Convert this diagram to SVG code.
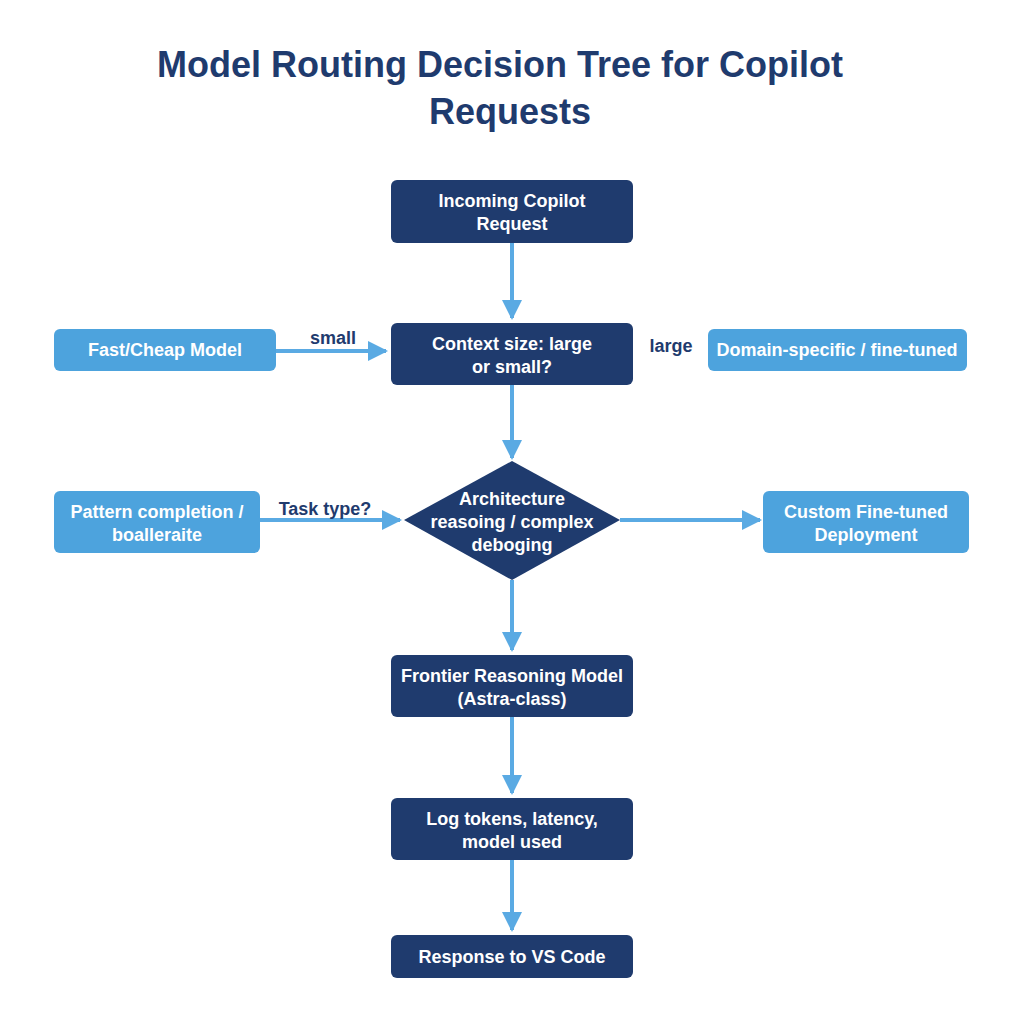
<svg xmlns="http://www.w3.org/2000/svg" width="1024" height="1024" viewBox="0 0 1024 1024">
<style>
.dk{fill:#1f3b6e}.lt{fill:#4da3dd}
text{font-family:"Liberation Sans",Arial,sans-serif;font-weight:bold}
.w{fill:#fff;font-size:18px;text-anchor:middle}
.lb{fill:#1f3b6e;font-size:18px;text-anchor:middle}
.c{stroke:#5aaae3;stroke-width:4;fill:none;marker-end:url(#a)}
</style>
<defs><marker id="a" viewBox="0 0 10 10" refX="9" refY="5" markerWidth="5" markerHeight="5" orient="auto" markerUnits="strokeWidth"><path d="M0 0L10 5L0 10z" fill="#5aaae3"/></marker></defs>
<rect width="1024" height="1024" fill="#fff"/>
<text x="500" y="77" font-size="36" fill="#1f3b6e" text-anchor="middle">Model Routing Decision Tree for Copilot</text>
<text x="510" y="124" font-size="36" fill="#1f3b6e" text-anchor="middle">Requests</text>
<g id="connectors">
<path class="c" d="M512 243V318"/>
<path class="c" d="M276 351H386"/>
<path class="c" d="M512 385V458"/>
<path class="c" d="M260 520H400"/>
<path class="c" d="M620 520H760"/>
<path class="c" d="M512 580V650"/>
<path class="c" d="M512 717V793"/>
<path class="c" d="M512 860V930"/>
<text class="lb" x="333" y="344">small</text>
<text class="lb" x="671" y="352">large</text>
<text class="lb" x="325" y="515">Task type?</text>
</g>
<g id="n1"><rect class="dk" x="391" y="180" width="242" height="63" rx="6"/><text class="w" x="512" y="207">Incoming Copilot</text><text class="w" x="512" y="230">Request</text></g>
<g id="n2"><rect class="dk" x="391" y="323" width="242" height="62" rx="6"/><text class="w" x="512" y="350">Context size: large</text><text class="w" x="512" y="373">or small?</text></g>
<g id="n3"><rect class="lt" x="54" y="329" width="222" height="42" rx="6"/><text class="w" x="165" y="356">Fast/Cheap Model</text></g>
<g id="n4"><rect class="lt" x="708" y="329" width="259" height="42" rx="6"/><text class="w" x="837" y="356">Domain-specific / fine-tuned</text></g>
<g id="n5"><path class="dk" d="M512 461L620 520L512 580L404 520z"/><text class="w" x="512" y="505">Architecture</text><text class="w" x="512" y="528">reasoing / complex</text><text class="w" x="512" y="551">deboging</text></g>
<g id="n6"><rect class="lt" x="54" y="491" width="206" height="62" rx="6"/><text class="w" x="157" y="518">Pattern completion /</text><text class="w" x="157" y="541">boallerаite</text></g>
<g id="n7"><rect class="lt" x="763" y="491" width="206" height="62" rx="6"/><text class="w" x="866" y="518">Custom Fine-tuned</text><text class="w" x="866" y="541">Deployment</text></g>
<g id="n8"><rect class="dk" x="391" y="655" width="242" height="62" rx="6"/><text class="w" x="512" y="682">Frontier Reasoning Model</text><text class="w" x="512" y="705">(Astra-class)</text></g>
<g id="n9"><rect class="dk" x="391" y="798" width="242" height="62" rx="6"/><text class="w" x="512" y="825">Log tokens, latency,</text><text class="w" x="512" y="848">model used</text></g>
<g id="n10"><rect class="dk" x="391" y="935" width="242" height="43" rx="6"/><text class="w" x="512" y="963">Response to VS Code</text></g>
</svg>
